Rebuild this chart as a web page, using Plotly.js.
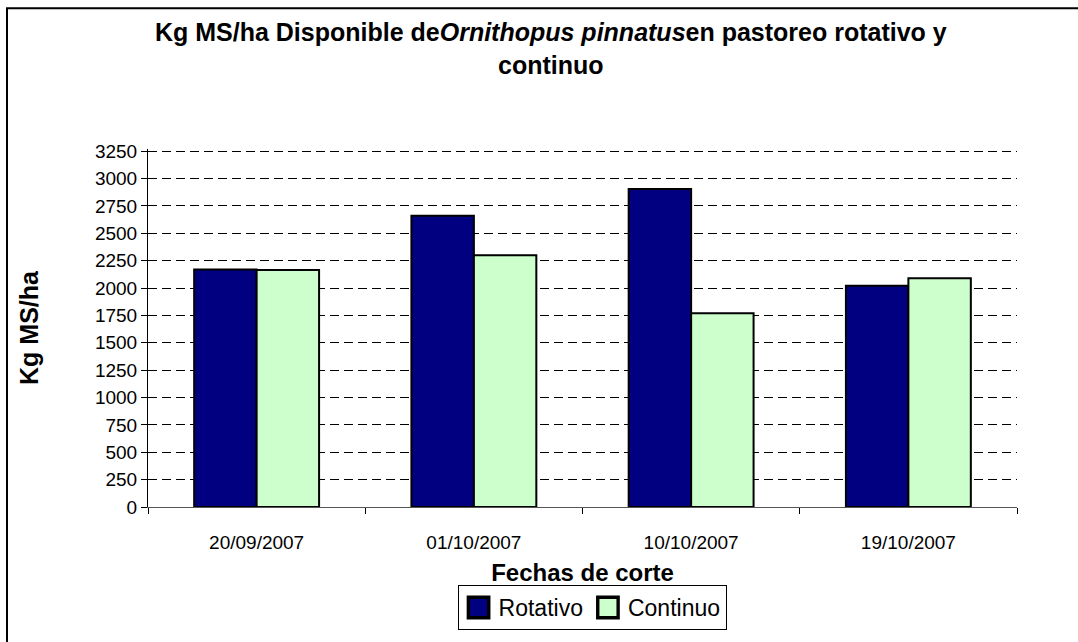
<!DOCTYPE html>
<html>
<head>
<meta charset="utf-8">
<script src="https://cdn.plot.ly/plotly-3.0.1.min.js"></script>
<style>
  html, body { margin: 0; padding: 0; background: #fff; overflow: hidden; }
  #chart { width: 1078px; height: 642px; }
</style>
</head>
<body>
<div id="chart"></div>
<script>
const categories = ['20/09/2007', '01/10/2007', '10/10/2007', '19/10/2007'];
const rotativo = [2170, 2660, 2905, 2020];
const continuo = [2165, 2300, 1770, 2090];
const seriesNames = ['Rotativo', 'Continuo'];
const yTicks = [0, 250, 500, 750, 1000, 1250, 1500, 1750, 2000, 2250, 2500, 2750, 3000, 3250];

const FONT = '"Liberation Sans", Arial, sans-serif';

const traces = [
  {
    type: 'bar', name: seriesNames[0], x: categories, y: rotativo,
    marker: { color: '#000080', line: { color: '#000', width: 2 } }
  },
  {
    type: 'bar', name: seriesNames[1], x: categories, y: continuo,
    marker: { color: '#CCFFCC', line: { color: '#000', width: 2 } }
  }
];

const layout = {
  width: 1078, height: 642,
  margin: { l: 148, r: 61, t: 149, b: 129, pad: 0 },
  paper_bgcolor: '#fff', plot_bgcolor: '#fff',
  font: { family: FONT, color: '#000' },
  barmode: 'group', bargap: 0.425, bargroupgap: 0,
  title: {
    text: '<b>Kg MS/ha Disponible de<i>Ornithopus pinnatus</i>en pastoreo rotativo y<br>continuo</b>',
    font: { family: FONT, size: 25, color: '#000' },
    x: 0.511, xref: 'container', xanchor: 'center',
    y: 0.936, yref: 'container', yanchor: 'middle'
  },
  xaxis: {
    type: 'category',
    showline: true, linecolor: '#555', linewidth: 1,
    ticks: 'outside', tickson: 'boundaries', ticklen: 6, tickcolor: '#000',
    ticklabelstandoff: 18,
    tickfont: { family: FONT, size: 19, color: '#000' },
    showgrid: false, zeroline: false,
    title: { text: '<b>Fechas de corte</b>', font: { family: FONT, size: 24, color: '#000' }, standoff: 12 }
  },
  yaxis: {
    range: [0, 3270], tickvals: yTicks, ticktext: yTicks.map(String),
    showline: true, linecolor: '#000', linewidth: 1,
    ticks: 'outside', ticklen: 6, tickcolor: '#000',
    tickfont: { family: FONT, size: 19, color: '#000' },
    showgrid: true, gridcolor: '#000', gridwidth: 1, griddash: '9px,5px',
    zeroline: false,
    title: { text: '<b>Kg MS/ha</b>', font: { family: FONT, size: 25, color: '#000' }, standoff: 49 }
  },
  showlegend: true,
  legend: {
    orientation: 'h', x: 0.511, xanchor: 'center', y: -0.218, yanchor: 'top',
    bordercolor: '#000', borderwidth: 1, bgcolor: '#fff',
    font: { family: FONT, size: 23, color: '#000' },
    itemwidth: 30, tracegroupgap: 0
  },
  shapes: [
    {
      type: 'rect', xref: 'paper', yref: 'paper',
      x0: (7 - 148) / 869, x1: (1300 - 148) / 869,
      y0: (513 - 800) / 364, y1: (513 - 6) / 364,
      line: { color: '#000', width: 2 }, fillcolor: 'rgba(0,0,0,0)', layer: 'below'
    }
  ]
};

Plotly.newPlot('chart', traces, layout, { staticPlot: true, displayModeBar: false }).then(function (gd) {
  gd.querySelectorAll('.legend .legendpoints path').forEach(function (p) {
    p.setAttribute('transform', (p.getAttribute('transform') || '') + ' scale(1.7)');
  });
});
</script>
</body>
</html>
